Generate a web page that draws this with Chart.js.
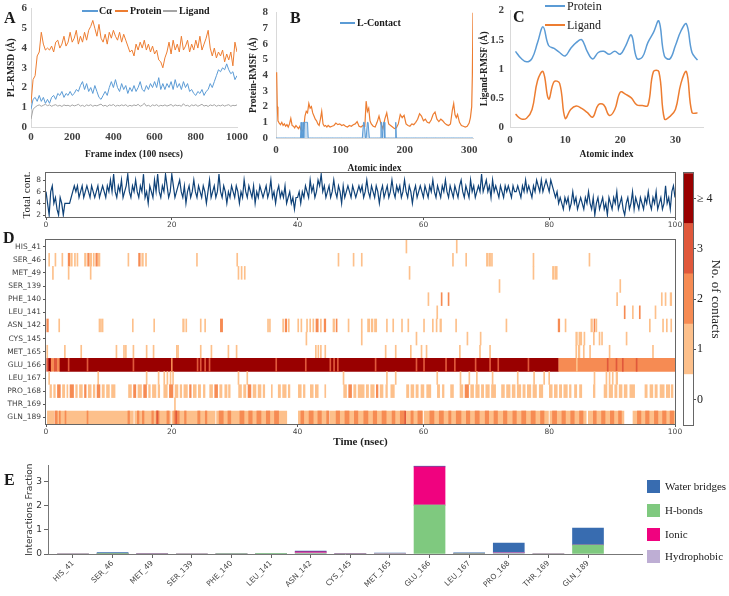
<!DOCTYPE html>
<html><head><meta charset="utf-8">
<script src="https://cdn.jsdelivr.net/npm/chart.js@4.4.1/dist/chart.umd.min.js"></script>
<style>
html,body{margin:0;padding:0;background:#fff}
#root{position:relative;width:729px;height:596px;overflow:hidden;background:#fff}
#root canvas{position:absolute}
.txt{position:absolute;white-space:nowrap;color:#1a1a1a;font-family:'Liberation Serif','DejaVu Serif',serif;line-height:1}
.ln{position:absolute;height:2px}
.sq{position:absolute;width:13px;height:13px}
</style></head><body><div id="root"></div>
<script>
// ---------------- DATA ----------------
// Panel A: RMSD (every 10 frames, frames 0..1000)
const rmsdFrameStep = 10;
const caRmsd = [0.9,1.4,1.5,1.3,1.6,1.3,1.5,1.2,1.4,1.2,
1.5,1.6,1.4,1.7,1.6,1.8,1.5,1.7,1.6,1.8,
1.6,1.7,1.9,1.8,2.1,2.3,1.9,2.2,1.8,2.0,
1.7,2.1,1.8,1.5,1.4,1.6,1.8,1.6,2.0,2.3,
2.0,2.4,2.0,1.8,2.2,1.9,2.1,1.7,2.0,1.8,
2.1,1.8,2.0,2.3,1.9,1.8,2.1,1.9,2.2,2.0,
2.3,2.0,2.5,1.9,2.2,1.9,2.2,2.0,2.3,1.9,
2.4,2.0,2.2,1.9,2.3,2.0,2.2,1.8,1.9,1.7,
1.6,1.8,1.7,1.9,1.6,1.8,1.9,2.2,2.0,2.3,
2.6,2.9,2.8,3.0,2.9,3.2,2.9,2.7,2.8,2.4,2.6];
const proteinRmsd = [1.2,2.4,2.6,3.6,3.8,4.8,4.2,3.9,4.0,3.9,
4.1,3.8,4.3,4.4,4.0,4.2,4.6,4.1,4.3,4.8,
4.3,4.5,4.9,4.2,4.6,4.3,4.8,4.4,4.9,5.1,
5.4,5.0,4.6,5.2,4.5,4.3,4.7,4.2,4.8,4.5,
4.9,4.6,4.4,4.8,4.3,4.7,4.4,4.1,3.8,3.9,
3.6,4.2,3.9,4.3,4.0,4.4,3.9,4.2,3.8,4.1,
3.7,3.9,3.4,3.3,3.0,3.5,3.8,4.3,3.7,4.4,
3.9,4.2,3.8,4.6,3.9,4.1,4.4,3.8,4.2,3.9,
4.4,4.0,4.6,3.9,4.2,4.5,4.9,4.0,3.6,4.0,
3.5,3.8,3.6,3.9,3.3,3.7,3.4,3.8,3.1,4.3,3.8];
const ligandRmsd = [0.4,0.9,1.0,1.08,1.12,1.05,1.1,1.15,1.08,1.12,
1.05,1.1,1.13,1.06,1.1,1.04,1.12,1.08,1.1,1.05,
1.12,1.07,1.1,1.15,1.06,1.1,1.04,1.12,1.08,1.13,
1.05,1.1,1.07,1.12,1.16,1.06,1.1,1.04,1.12,1.09,
1.14,1.05,1.1,1.07,1.12,1.08,1.13,1.04,1.1,1.06,
1.12,1.08,1.15,1.05,1.1,1.2,1.06,1.1,1.04,1.12,
1.08,1.13,1.05,1.1,1.07,1.12,1.06,1.1,1.14,1.05,
1.12,1.08,1.1,1.05,1.18,1.07,1.1,1.04,1.12,1.08,
1.13,1.05,1.1,1.15,1.06,1.1,1.04,1.12,1.08,1.13,
1.05,1.1,1.07,1.12,1.06,1.1,1.13,1.05,1.1,1.08,1.12];

// Panel B: protein RMSF [residue, value]
const proteinRmsf = [[1,4.2],[2,2.0],[3,1.1],[5,0.95],[7,0.85],[9,1.0],[11,0.8],[13,0.9],[15,0.75],[17,0.85],[19,0.7],[21,0.9],[23,1.25],[25,0.8],[27,0.75],[29,0.65],[31,0.8],[33,0.7],[35,0.6],[37,0.75],[39,0.5],[41,0.45],[43,0.6],[45,1.4],[47,1.7],[49,1.6],[51,2.2],[53,1.9],[55,2.0],[57,1.6],[59,1.4],[61,1.2],[63,1.1],[65,0.9],[67,0.8],[69,1.2],[71,1.7],[73,0.9],[75,0.75],[77,0.8],[79,0.7],[81,0.8],[84,0.7],[87,0.75],[90,0.8],[93,0.95],[96,0.85],[99,0.9],[102,0.8],[105,0.85],[108,0.75],[111,0.7],[114,0.8],[117,0.75],[120,0.85],[123,0.9],[126,1.05],[129,0.75],[132,0.7],[135,0.8],[138,0.75],[140,2.35],[142,1.7],[144,1.9],[146,1.1],[148,0.9],[151,0.75],[154,0.7],[157,1.0],[160,1.4],[163,0.9],[166,0.6],[169,1.2],[172,1.6],[175,0.9],[178,0.8],[181,0.7],[184,0.6],[187,0.65],[190,0.9],[193,1.5],[196,1.3],[199,1.45],[202,0.9],[205,0.8],[208,0.75],[211,0.9],[214,0.85],[217,1.0],[220,1.2],[223,1.55],[226,1.4],[229,1.1],[232,1.2],[235,1.0],[238,0.95],[241,1.15],[244,1.5],[247,1.65],[250,1.2],[253,1.05],[256,1.2],[259,1.1],[262,0.95],[265,0.85],[268,0.8],[271,0.9],[274,1.8],[276,2.2],[278,1.5],[280,1.3],[282,1.5],[285,1.0],[288,0.8],[291,0.75],[294,0.7],[297,0.75],[300,0.95],[302,1.3],[304,2.0],[305,4.0],[306,8.0]];
const residueCount = 306;
const contactResidues = [39,42,44,45,46,47,48,49,136,137,138,142,143,144,163,164,167,168,186];

// Panel C: ligand RMSF per atom
const atomIndex = [1,2,3,4,5,6,7,8,9,10,11,12,13,14,15,16,17,18,19,20,21,22,23,24,25,26,27,28,29,30,31,32,33,34];
const ligProteinRmsf = [1.3,1.18,1.12,1.18,1.45,1.72,1.4,1.35,1.28,1.22,1.35,1.45,1.5,1.3,1.17,1.28,1.3,1.25,1.3,1.25,1.4,1.58,1.18,1.2,1.45,1.62,1.82,1.22,1.17,1.4,1.65,1.77,1.28,1.15];
const ligLigandRmsf = [0.22,0.14,0.15,0.3,0.8,0.95,0.48,0.78,0.75,0.15,0.3,0.36,0.32,0.25,0.17,0.38,0.38,0.2,0.3,0.6,0.56,0.5,0.38,0.37,0.37,0.95,0.95,0.14,0.18,0.3,0.75,0.95,0.25,0.24];

// Total contacts (every 0.25 ns, 0..100 ns)
const contactTimeStep = 0.25;
const totalContacts = [
6,4,2,6,7,4,5,3,2,5,4,2,4,4,4,4,5,6,7,6,
7,5,6,7,5,6,7,6,5,7,6,5,6,7,5,6,7,6,5,7,
6,8,6,9,6,5,7,6,8,5,6,7,9,6,5,7,6,8,6,5,
7,6,9,5,6,4,7,6,5,8,6,9,6,5,7,6,9,7,5,6,
9,7,5,6,7,8,6,5,7,4,6,7,5,6,8,6,5,7,6,5,
7,6,4,6,8,5,6,7,5,6,9,6,5,7,6,4,6,5,7,6,
5,7,6,4,6,5,8,6,5,7,6,5,7,4,6,5,7,6,5,6,
7,5,6,8,5,6,4,6,7,5,6,5,7,4,5,6,4,5,3,5,
5,6,4,6,5,7,6,5,8,6,7,5,6,8,7,9,6,7,5,6,
7,5,6,8,6,5,7,6,4,7,5,6,7,6,5,7,6,5,6,7,
6,7,5,6,8,6,5,7,6,5,7,6,4,6,7,5,6,7,5,6,
8,6,5,7,6,7,5,6,8,6,5,7,6,4,6,7,5,6,7,6,
5,7,6,5,7,6,8,6,5,7,6,5,7,6,8,6,5,7,6,5,
7,6,5,7,8,6,5,7,6,5,8,6,7,5,6,7,6,9,6,7,
8,6,7,5,8,6,7,6,5,7,6,5,7,6,7,6,5,7,6,6,
7,6,5,7,6,8,6,7,6,5,7,6,8,7,6,8,6,7,8,7,
6,8,7,6,5,6,4,5,4,3,5,4,5,3,4,6,4,5,3,4,
5,4,3,5,4,6,4,3,5,2,4,5,3,4,5,3,4,2,5,4,
3,5,4,6,3,4,5,3,2,4,5,3,4,6,3,5,4,3,5,4,
3,5,4,6,4,3,5,4,6,3,4,5,3,4,7,4,5,3,6,7,
5];

// Heatmap: residues and contact segments [start ns, end ns, no. of contacts]
const residues = ['HIS_41','SER_46','MET_49','SER_139','PHE_140','LEU_141','ASN_142','CYS_145','MET_165','GLU_166','LEU_167','PRO_168','THR_169','GLN_189'];
const segHIS41 = [[57.2,57.4,1],[65.2,65.4,1]];
const segSER46 = [[0.4,0.6,1],[1.4,1.6,1],[2.5,2.7,1],[3.5,3.8,2],[3.9,4.2,1],[4.5,4.7,1],[4.9,5.1,1],[6.1,6.4,1],[6.6,6.9,2],[7.0,7.3,1],[7.5,7.7,1],[7.9,8.2,2],[8.3,8.6,1],[13.0,13.2,1],[14.7,15.0,2],[15.2,15.5,1],[15.8,16.0,1],[23.9,24.1,1],[30.3,30.5,1],[46.4,46.6,1],[48.8,49.0,1],[50.1,50.3,1],[64.6,64.8,1],[66.7,66.9,1],[70.0,70.3,1],[70.4,70.7,1],[70.8,71.0,1],[77.4,77.6,1],[86.3,86.5,1]];
const segMET49 = [[1.0,1.2,1],[3.5,3.7,1],[7.0,7.2,1],[30.5,30.7,1],[31.0,31.2,1],[31.5,31.7,1],[57.7,57.9,1],[77.4,77.6,1],[80.5,80.8,1],[80.9,81.3,1]];
const segSER139 = [[72.0,72.2,1],[91.2,91.4,1]];
const segPHE140 = [[60.7,60.9,1],[62.8,63.0,2],[63.9,64.1,2],[90.7,90.9,1],[97.8,98.0,1],[98.4,98.6,1],[99.2,99.5,1]];
const segLEU141 = [[62.1,62.3,1],[91.9,92.1,2],[93.2,93.4,1],[94.3,94.5,2],[96.8,97.0,1]];
const segASN142 = [[0.1,0.4,2],[2.0,2.2,1],[8.4,8.7,1],[8.8,9.1,1],[13.7,13.9,1],[17.1,17.3,1],[21.7,22.0,1],[22.2,22.4,1],[24.5,24.7,1],[25.2,25.4,1],[27.7,28.1,2],[35.2,35.4,1],[35.5,35.7,1],[37.6,37.8,1],[38.0,38.3,2],[38.5,38.7,1],[40.0,40.2,1],[40.5,40.7,1],[41.4,41.6,1],[41.9,42.1,1],[42.4,42.6,1],[42.9,43.3,2],[43.6,43.8,1],[44.2,44.5,2],[45.6,45.9,1],[46.1,46.3,2],[48.0,48.2,1],[50.1,50.3,1],[51.1,51.5,1],[51.7,52.0,1],[52.2,52.6,1],[54.1,54.3,1],[55.1,55.3,1],[56.5,56.7,1],[57.5,57.7,1],[60.0,60.2,1],[61.4,61.6,1],[62.0,62.2,1],[62.6,62.9,1],[65.1,65.3,1],[73.1,73.3,1],[81.4,81.7,2],[82.5,82.7,1],[86.6,86.9,1],[87.1,87.3,2],[87.4,87.6,1],[95.9,96.1,1],[98.0,98.2,1],[98.6,98.8,1],[99.3,99.5,1]];
const segCYS145 = [[41.3,41.5,1],[50.1,50.3,1],[58.8,59.0,1],[66.9,67.1,1],[69.0,69.2,1],[84.2,84.5,1],[84.7,85.2,1],[85.5,85.7,1],[87.0,87.2,1],[87.9,88.1,1],[88.3,88.5,1],[92.2,92.4,1]];
const segMET165 = [[0.1,0.3,1],[2.9,3.1,1],[5.5,5.7,1],[11.1,11.3,1],[12.3,12.5,1],[12.6,12.8,1],[13.8,14.0,1],[15.9,16.1,1],[17.0,17.2,1],[20.7,20.9,1],[20.9,21.1,1],[24.5,24.7,1],[26.2,26.4,1],[28.9,29.1,1],[30.2,30.4,1],[42.8,43.0,1],[43.2,43.4,1],[43.6,43.8,1],[44.3,44.5,1],[53.9,54.1,1],[55.5,55.7,1],[57.9,58.1,1],[59.6,59.8,1],[60.4,60.6,1],[65.7,65.9,1],[68.9,69.1,1],[70.5,70.7,1],[84.2,84.4,1],[84.6,84.9,1],[85.4,85.6,1],[86.4,86.6,1],[89.5,89.7,1],[96.4,96.6,1]];
const segGLU166 = [[0,0.4,3],[0.4,0.8,4],[0.8,1.3,2],[1.3,1.8,3],[1.8,2.2,2],[2.2,81.5,4],[3.5,3.7,3],[6.5,6.7,3],[13.8,14.0,3],[19.9,20.1,2],[24.0,24.2,3],[24.5,24.7,3],[25.2,25.4,3],[25.9,26.1,3],[36.5,36.7,3],[41.2,41.4,3],[45.1,45.3,3],[45.7,45.9,3],[46.3,46.5,3],[52.3,52.5,3],[58.8,59.0,3],[60.0,60.2,3],[63.5,63.7,3],[64.9,65.1,3],[68.2,68.4,3],[70.5,70.7,3],[71.8,72.0,3],[76.6,76.8,3],[81.5,100,2],[84.3,84.5,1],[89.2,89.4,3],[90.6,90.8,3],[91.6,91.8,3],[93.8,94.0,3]];
const segLEU167 = [[0.4,0.6,1],[8.2,8.4,1],[15.9,16.1,1],[17.8,18.0,1],[18.7,18.9,1],[19.2,19.4,1],[19.7,19.9,1],[20.1,20.3,1],[30.5,30.7,1],[31.9,32.1,1],[47.2,47.4,1],[54.1,54.3,1],[55.5,55.7,1],[62.1,62.3,1],[65.8,66.0,1],[67.2,67.4,1],[68.4,68.6,1],[70.9,71.1,1],[74.9,75.1,1],[77.5,77.7,1],[79.1,79.3,1],[79.9,80.1,1],[87.1,87.3,1],[89.0,89.2,1],[89.5,89.7,1],[90.0,90.2,1],[90.6,90.9,1]];
const segPRO168 = [[0.6,0.9,1],[1.2,1.5,1],[1.8,2.3,2],[2.6,3.0,1],[3.3,3.5,1],[3.8,4.4,2],[4.7,5.0,1],[5.3,5.8,1],[6.1,6.4,2],[6.7,7.2,1],[7.5,7.8,1],[8.1,8.6,2],[8.9,9.3,1],[9.6,10.1,1],[10.4,11.0,1],[13.1,13.6,1],[13.9,14.3,2],[14.6,15.2,1],[15.5,16.0,2],[16.3,16.6,1],[16.9,17.5,1],[17.8,18.1,1],[18.7,19.3,1],[19.6,20.2,2],[20.5,21.0,1],[21.3,21.6,1],[21.9,22.5,1],[22.8,23.1,2],[23.4,23.9,1],[24.2,24.6,1],[25.0,25.3,1],[26.0,26.5,1],[26.8,27.3,2],[27.6,28.0,1],[28.4,28.8,1],[29.0,29.3,1],[30.6,31.1,1],[31.4,31.8,1],[32.1,32.6,2],[32.9,33.4,1],[33.7,34.2,1],[34.5,34.8,1],[35.8,36.0,1],[36.9,37.3,1],[37.6,38.2,1],[38.5,38.8,1],[40.1,40.6,1],[40.9,41.2,1],[42.0,42.5,1],[42.8,43.3,1],[44.3,44.5,1],[47.3,47.8,1],[48.1,48.6,2],[48.9,49.3,1],[49.6,50.6,1],[50.9,51.3,1],[51.6,52.2,1],[52.5,52.8,2],[53.1,53.6,1],[54.0,54.3,1],[54.8,55.4,1],[57.3,57.7,1],[58.0,58.5,1],[58.8,59.2,1],[59.6,60.1,1],[60.5,61.2,1],[62.2,62.6,1],[63.0,63.3,1],[64.3,64.8,1],[65.8,66.3,1],[66.6,67.2,2],[67.5,68.0,1],[68.3,68.9,1],[69.2,69.6,1],[69.9,70.5,1],[70.8,71.5,1],[72.4,72.9,1],[73.2,73.8,1],[74.1,74.6,1],[74.9,75.5,1],[75.8,76.2,1],[76.5,77.1,1],[77.4,78.0,1],[78.4,79.0,1],[80.0,80.5,1],[80.8,81.3,1],[81.6,82.0,1],[82.3,82.9,1],[83.2,83.5,1],[84.0,84.4,1],[84.8,85.2,1],[87.0,87.3,1],[88.7,89.2,1],[89.5,90.1,1],[90.4,90.8,1],[91.1,91.6,1],[91.9,92.4,1],[92.8,93.6,1],[95.2,95.6,1],[96.0,96.5,1],[96.8,97.2,1],[97.6,98.3,1],[98.6,99.2,1],[99.4,99.7,1]];
const segTHR169 = [[20.4,20.6,1]];
const segGLN189 = [[0.2,1.3,1],[1.5,13.9,1],[14.1,19.8,1],[20.0,26.9,1],[27.1,38.3,1],[40.1,44.9,1],[45.1,59.9,1],[60.1,79.9,1],[80.1,85.9,1],[86.2,91.9,1],[93.3,100,1],
[1.4,1.8,2],[2.1,2.3,2],[3.0,3.2,2],[6.5,6.7,2],[13.0,13.3,2],[14.5,14.8,2],[15.3,15.6,2],[16.8,17.1,2],[17.5,18.0,2],[19.2,19.6,2],[20.3,21.2,2],[22.0,22.3,2],[24.1,24.5,2],[25.3,25.6,2],[27.5,28.2,2],[28.9,29.4,2],[30.8,31.5,2],[32.2,32.8,2],[33.5,34.2,2],[35.0,35.6,2],[36.3,37.0,2],[40.5,41.0,2],[41.8,42.5,2],[43.2,43.8,2],[44.6,45.0,2],[46.1,46.7,2],[47.5,48.2,2],[49.0,49.6,2],[50.5,51.2,2],[52.0,52.6,2],[53.4,54.1,2],[55.0,55.5,2],[56.3,57.0,2],[58.0,58.4,2],[59.1,59.8,2],[61.0,61.7,2],[62.5,63.2,2],[64.0,64.4,2],[65.2,66.0,2],[66.8,67.4,2],[68.2,68.9,2],[69.8,70.4,2],[71.2,71.8,2],[72.7,73.3,2],[74.2,74.8,2],[75.6,76.3,2],[77.1,77.8,2],[78.6,79.2,2],[80.5,81.2,2],[82.0,82.6,2],[83.4,84.0,2],[84.8,85.4,2],[87.0,87.5,2],[88.3,88.9,2],[89.7,90.3,2],[91.0,91.5,2],[94.0,94.6,2],[95.3,95.9,2],[96.7,97.3,2],[98.0,98.6,2],[99.2,99.8,2],[17.6,17.8,3],[20.6,20.8,3],[57.0,57.2,3]];
const contactLevelLabels = ['0','1','2','3','\u2265 4'];

// Panel E: interaction fractions
const residuesE = ['HIS_41','SER_46','MET_49','SER_139','PHE_140','LEU_141','ASN_142','CYS_145','MET_165','GLU_166','LEU_167','PRO_168','THR_169','GLN_189'];
const hbondFrac =       [0,0.01,0,0,0.02,0.01,0.02,0,0,2.02,0.02,0,0,0.37];
const hydrophobicFrac = [0,0,0.02,0,0.01,0.02,0.03,0.02,0.03,0,0,0.05,0,0];
const ionicFrac =       [0,0,0,0,0,0,0.04,0,0,1.58,0,0,0,0];
const waterFrac =       [0,0.05,0.01,0,0,0,0.03,0.01,0.01,0.03,0.03,0.40,0,0.70];

// ---------------- STYLE ----------------
const SERIF = "'Liberation Serif','DejaVu Serif',serif";
const SANS = "'DejaVu Sans','Liberation Sans',sans-serif";
const C_BLUE = '#5b9bd5', C_ORANGE = '#ed7d31', C_GRAY = '#a5a5a5';
const levelColors = ['#ffffff','#fdc08b','#f68b53','#e0583b','#990000'];
const C_HB = '#7fc97f', C_HP = '#beaed4', C_ION = '#f0027f', C_WB = '#386cb0';

Chart.defaults.animation = false;
Chart.defaults.responsive = false;
Chart.defaults.maintainAspectRatio = false;
Chart.defaults.plugins.legend.display = false;
Chart.defaults.plugins.tooltip.enabled = false;
Chart.defaults.font.family = SERIF;
Chart.defaults.color = '#404040';

const root = document.getElementById('root');
function makeCanvas(left, top, w, h) {
  const c = document.createElement('canvas');
  c.width = w; c.height = h;
  c.style.left = left + 'px'; c.style.top = top + 'px';
  c.style.width = w + 'px'; c.style.height = h + 'px';
  root.appendChild(c);
  return c;
}
function addText(str, x, y, size, o) {
  o = o || {};
  const d = document.createElement('div');
  d.className = 'txt';
  d.textContent = str;
  d.style.fontSize = size + 'px';
  d.style.left = x + 'px';
  d.style.top = (y - size / 2) + 'px';
  if (o.bold) d.style.fontWeight = 'bold';
  if (o.family) d.style.fontFamily = o.family;
  if (o.color) d.style.color = o.color;
  root.appendChild(d);
  return d;
}
function addLine(x, y, w, color) {
  const d = document.createElement('div');
  d.className = 'ln';
  d.style.left = x + 'px'; d.style.top = (y - 1) + 'px'; d.style.width = w + 'px';
  d.style.background = color;
  root.appendChild(d);
}
function addSquare(x, y, color) {
  const d = document.createElement('div');
  d.className = 'sq';
  d.style.left = x + 'px'; d.style.top = y + 'px'; d.style.background = color;
  root.appendChild(d);
}
const framePlugin = {
  id: 'frame',
  afterDatasetsDraw(chart, args, opts) {
    if (!opts || !opts.color) return;
    const a = chart.chartArea, ctx = chart.ctx;
    ctx.save();
    ctx.strokeStyle = opts.color; ctx.lineWidth = 1;
    ctx.strokeRect(Math.round(a.left) - 0.5, Math.round(a.top) - 0.5, Math.round(a.right - a.left) + 1, Math.round(a.bottom - a.top) + 1);
    ctx.restore();
  }
};
function fixedTicks(values) { return function (scale) { scale.ticks = values.map(v => ({ value: v })); }; }
const plain = (v) => String(v);
const excelTick = { color: '#404040', font: { family: SERIF, size: 11, weight: 'bold' }, autoSkip: false, callback: plain };
const excelTitleFont = { family: SERIF, size: 9.5, weight: 'bold' };
const noGrid = { display: false, drawTicks: false };

// ---------------- PANEL A ----------------
new Chart(makeCanvas(0, -2, 252, 164), {
  type: 'line',
  data: { datasets: [
    { data: caRmsd.map((v, i) => ({ x: i * rmsdFrameStep, y: v })), borderColor: C_BLUE, borderWidth: 1, pointRadius: 0 },
    { data: ligandRmsd.map((v, i) => ({ x: i * rmsdFrameStep, y: v })), borderColor: C_GRAY, borderWidth: 1, pointRadius: 0 },
    { data: proteinRmsd.map((v, i) => ({ x: i * rmsdFrameStep, y: v })), borderColor: C_ORANGE, borderWidth: 1, pointRadius: 0 }
  ] },
  options: {
    layout: { padding: { top: 7, right: 14, left: 0, bottom: 0 } },
    scales: {
      x: { type: 'linear', min: 0, max: 1000, afterBuildTicks: fixedTicks([0,200,400,600,800,1000]), afterFit(s) { s.height = 35; },
        ticks: Object.assign({ padding: 4, maxRotation: 0 }, excelTick), grid: noGrid, border: { color: '#d9d9d9' },
        title: { display: true, text: 'Frame index (100 nsecs)', color: '#222', font: excelTitleFont, padding: { top: 0, bottom: 1.3 } } },
      y: { min: 0, max: 6, afterBuildTicks: fixedTicks([0,1,2,3,4,5,6]), afterFit(s) { s.width = 31; },
        ticks: Object.assign({ padding: 4 }, excelTick), grid: noGrid, border: { color: '#d9d9d9' },
        title: { display: true, text: 'PL-RMSD (\u00c5)', color: '#222', font: excelTitleFont, padding: { top: 6.3, bottom: 0 } } }
    }
  }
});
addText('A', 4, 18, 16, { bold: true });
addLine(82, 11, 16, C_BLUE); addText('C\u03b1', 99, 11, 10, { bold: true });
addLine(115, 11, 13, C_ORANGE); addText('Protein', 130, 11, 10, { bold: true });
addLine(163, 11, 14, C_GRAY); addText('Ligand', 179, 11, 10, { bold: true });

// ---------------- PANEL B ----------------
const contactLine = [];
for (let r = 0; r <= residueCount; r++) contactLine.push({ x: r, y: contactResidues.includes(r) ? 1 : 0 });
new Chart(makeCanvas(232, -2, 253, 180), {
  type: 'line',
  data: { datasets: [
    { data: contactLine, borderColor: C_BLUE, borderWidth: 1, pointRadius: 0, fill: 'origin', backgroundColor: 'rgba(91,155,213,0.35)' },
    { data: proteinRmsf.map(p => ({ x: p[0], y: p[1] })), borderColor: C_ORANGE, borderWidth: 1.2, pointRadius: 0 }
  ] },
  options: {
    layout: { padding: { top: 8, right: 12, left: 0, bottom: 0 } },
    plugins: { filler: { propagate: false } },
    scales: {
      x: { type: 'linear', min: 0, max: residueCount, afterBuildTicks: fixedTicks([0,100,200,300]), afterFit(s) { s.height = 40; },
        ticks: Object.assign({ padding: 6, maxRotation: 0 }, excelTick), grid: noGrid, border: { color: '#d9d9d9' },
        title: { display: true, text: 'Atomic index', color: '#222', font: excelTitleFont, padding: { top: 0, bottom: 3.3 } } },
      y: { min: 0, max: 8, afterBuildTicks: fixedTicks([0,1,2,3,4,5,6,7,8]), afterFit(s) { s.width = 44; },
        ticks: Object.assign({ padding: 8 }, excelTick), grid: noGrid, border: { color: '#d9d9d9' },
        title: { display: true, text: 'Protein-RMSF (\u00c5)', color: '#222', font: excelTitleFont, padding: { top: 16.3, bottom: 0 } } }
    }
  }
});
addText('B', 290, 18, 16, { bold: true });
addLine(340, 23, 15, C_BLUE); addText('L-Contact', 357, 23, 10, { bold: true });

// ---------------- PANEL C ----------------
new Chart(makeCanvas(478, -2, 251, 166), {
  type: 'line',
  data: { datasets: [
    { data: atomIndex.map((a, i) => ({ x: a, y: ligProteinRmsf[i] })), borderColor: C_BLUE, borderWidth: 1.5, pointRadius: 0, tension: 0.4 },
    { data: atomIndex.map((a, i) => ({ x: a, y: ligLigandRmsf[i] })), borderColor: C_ORANGE, borderWidth: 1.5, pointRadius: 0, tension: 0.4 }
  ] },
  options: {
    layout: { padding: { top: 10, right: 26, left: 0, bottom: 0 } },
    scales: {
      x: { type: 'linear', min: 0, max: 35, afterBuildTicks: fixedTicks([0,10,20,30]), afterFit(s) { s.height = 37; },
        ticks: Object.assign({ padding: 7, maxRotation: 0 }, excelTick), grid: noGrid, border: { color: '#d9d9d9' },
        title: { display: true, text: 'Atomic index', color: '#222', font: excelTitleFont, padding: { top: 0, bottom: 3.3 } } },
      y: { min: 0, max: 2, afterBuildTicks: fixedTicks([0,0.5,1,1.5,2]), afterFit(s) { s.width = 32; },
        ticks: Object.assign({ padding: 6 }, excelTick), grid: noGrid, border: { color: '#d9d9d9' },
        title: { display: true, text: 'Ligand-RMSF (\u00c5)', color: '#222', font: excelTitleFont, padding: { top: 1.3, bottom: 0 } } }
    }
  }
});
addText('C', 513, 17, 16, { bold: true });
addLine(545, 6, 20, C_BLUE); addText('Protein', 567, 6, 12);
addLine(545, 25, 20, C_ORANGE); addText('Ligand', 567, 25, 12);

// ---------------- TOTAL CONTACTS ----------------
const mplTick = { color: '#444', font: { family: SANS, size: 7.5 }, autoSkip: false };
const mplGrid = { display: true, drawOnChartArea: false, drawTicks: true, tickLength: 3, color: '#555', offset: false };
new Chart(makeCanvas(0, 165, 690, 67), {
  type: 'line',
  data: { datasets: [
    { data: totalContacts.map((v, i) => ({ x: i * contactTimeStep, y: v })), borderColor: '#0f4278', borderWidth: 1.2, pointRadius: 0 }
  ] },
  plugins: [framePlugin],
  options: {
    layout: { padding: { top: 8, right: 15, left: 0, bottom: 0 } },
    plugins: { frame: { color: '#666' } },
    scales: {
      x: { type: 'linear', min: 0, max: 100, afterBuildTicks: fixedTicks([0,20,40,60,80,100]), afterFit(s) { s.height = 15; },
        ticks: Object.assign({ padding: 1, maxRotation: 0 }, mplTick), grid: mplGrid, border: { display: false } },
      y: { min: 1.66, max: 9.2, afterBuildTicks: fixedTicks([2,4,6,8]), afterFit(s) { s.width = 46; },
        ticks: Object.assign({ padding: 2 }, mplTick), grid: mplGrid, border: { display: false },
        title: { display: true, text: 'Total cont.', color: '#222', font: { family: SERIF, size: 11 }, padding: { top: 21, bottom: 0 } } }
    }
  }
});

// ---------------- HEATMAP ----------------
const heatRows = [segHIS41, segSER46, segMET49, segSER139, segPHE140, segLEU141, segASN142, segCYS145, segMET165, segGLU166, segLEU167, segPRO168, segTHR169, segGLN189];
const cells = [];
heatRows.forEach((segs, r) => segs.forEach(s => cells.push({ x: [s[0], s[1]], y: residues[r], level: s[2] })));
new Chart(makeCanvas(0, 232, 690, 218), {
  type: 'bar',
  data: { labels: residues, datasets: [
    { data: cells, backgroundColor: cells.map(c => levelColors[c.level]), borderWidth: 0, barPercentage: 1, categoryPercentage: 1, inflateAmount: 0.2 }
  ] },
  plugins: [framePlugin],
  options: {
    indexAxis: 'y',
    layout: { padding: { top: 8, right: 15, left: 0, bottom: 0 } },
    plugins: { frame: { color: '#666' } },
    scales: {
      x: { type: 'linear', min: 0, max: 100, afterBuildTicks: fixedTicks([0,20,40,60,80,100]), afterFit(s) { s.height = 26; },
        ticks: Object.assign({ padding: 1, maxRotation: 0 }, mplTick), grid: mplGrid, border: { display: false },
        title: { display: true, text: 'Time (nsec)', color: '#222', font: { family: SERIF, size: 11, weight: 'bold' }, padding: { top: 0, bottom: 1.4 } } },
      y: { type: 'category', offset: true, afterFit(s) { s.width = 46; },
        ticks: Object.assign({ padding: 2 }, mplTick), grid: mplGrid, border: { display: false } }
    }
  }
});
addText('D', 3, 238, 16, { bold: true });

// ---------------- COLORBAR ----------------
new Chart(makeCanvas(676, 165, 53, 268), {
  type: 'bar',
  data: { labels: [''], datasets: levelColors.map(c => ({ data: [1], backgroundColor: c, borderWidth: 0, barPercentage: 1, categoryPercentage: 1 })) },
  plugins: [framePlugin],
  options: {
    layout: { padding: { top: 7, right: 0, left: 8, bottom: 8 } },
    plugins: { frame: { color: '#666' } },
    scales: {
      x: { display: false, stacked: true },
      y: { position: 'right', stacked: true, min: 0, max: 5, afterBuildTicks: fixedTicks([0.5,1.5,2.5,3.5,4.5]), afterFit(s) { s.width = 36; },
        ticks: { padding: 1, color: '#222', font: { family: SERIF, size: 12 }, autoSkip: false, callback: (v) => contactLevelLabels[Math.floor(v)] },
        grid: { display: true, drawOnChartArea: false, drawTicks: true, tickLength: 3, color: '#555' }, border: { display: false },
        title: { display: true, text: 'No. of contacts', color: '#222', font: { family: SERIF, size: 13 }, padding: { top: 6.2, bottom: 0 } } }
    }
  }
});

// ---------------- PANEL E ----------------
const mkBar = (label, arr, color) => ({ label, data: arr.map((v, i) => ({ x: i, y: v })), backgroundColor: color, borderWidth: 0, barThickness: 31 });
new Chart(makeCanvas(0, 458, 650, 138), {
  type: 'bar',
  data: { datasets: [
    mkBar('H-bonds', hbondFrac, C_HB),
    mkBar('Hydrophobic', hydrophobicFrac, C_HP),
    mkBar('Ionic', ionicFrac, C_ION),
    mkBar('Water bridges', waterFrac, C_WB)
  ] },
  options: {
    layout: { padding: { top: 7, right: 8, left: 0, bottom: 0 } },
    scales: {
      x: { type: 'linear', stacked: true, offset: false, min: -0.631, max: 14.363, afterBuildTicks: fixedTicks(residuesE.map((_, i) => i)), afterFit(s) { s.height = 42; },
        ticks: { autoSkip: false, minRotation: 45, maxRotation: 45, padding: 1, color: '#444', font: { family: SANS, size: 7.5 }, callback: (v) => residuesE[v] },
        grid: { display: true, drawOnChartArea: false, drawTicks: true, tickLength: 4, color: '#666', offset: false }, border: { color: '#777' } },
      y: { stacked: true, min: 0, max: 3.66, afterBuildTicks: fixedTicks([0,1,2,3]), afterFit(s) { s.width = 48; },
        ticks: { padding: 2, color: '#333', font: { family: SANS, size: 9 }, autoSkip: false, callback: plain },
        grid: { display: true, drawOnChartArea: false, drawTicks: true, tickLength: 4, color: '#666' }, border: { color: '#777' },
        title: { display: true, text: 'Interactions Fraction', color: '#333', font: { family: SANS, size: 9 }, padding: { top: 24.6, bottom: 0 } } }
    }
  }
});
addText('E', 4, 480, 16, { bold: true });
addSquare(647, 480, C_WB); addText('Water bridges', 665, 486, 11);
addSquare(647, 504, C_HB); addText('H-bonds', 665, 510, 11);
addSquare(647, 528, C_ION); addText('Ionic', 665, 534, 11);
addSquare(647, 550, C_HP); addText('Hydrophobic', 665, 556, 11);
</script></body></html>
